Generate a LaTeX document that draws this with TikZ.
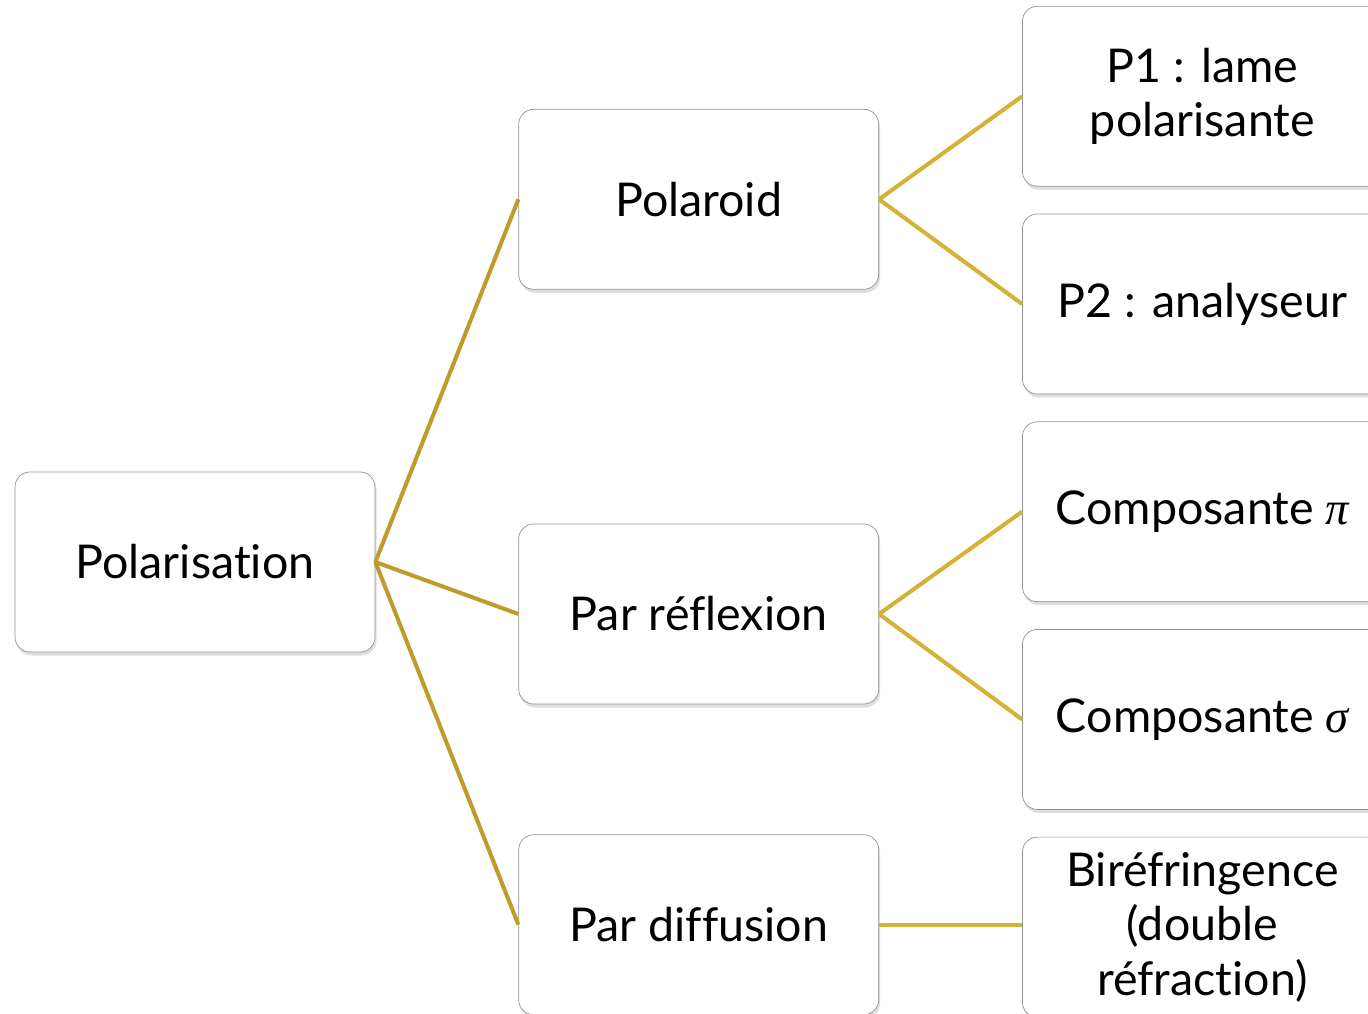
\documentclass[tikz,border=0pt]{standalone}
\usepackage{fontspec}
\setmainfont{Lato}[Ligatures=NoCommon]
\newfontfamily\grec{Liberation Serif}
\usepackage{tikz}
\usetikzlibrary{positioning, shadows}
\definecolor{orfonce}{HTML}{BF9B2C}
\definecolor{orclair}{HTML}{D5B236}
\newcommand{\taille}{\fontsize{26.5}{31}\selectfont}
\newcommand{\lettre}[1]{{\grec\itshape #1}}

\begin{document}
\begin{tikzpicture}[
  node distance=0.54cm and 2.86cm,
  box/.style={draw=gray!85, rounded corners=0.3cm, fill=white,
    minimum width=7.2cm, minimum height=3.6cm, align=center,
    inner sep=2pt, font=\taille,
    drop shadow={opacity=0.25, shadow xshift=0.03cm, shadow yshift=-0.07cm}},
  lienA/.style={line width=2.3pt, draw=orfonce},
  lienB/.style={line width=2.3pt, draw=orclair}
]
  \useasboundingbox (-3.9,11.24) rectangle (23.46,-9.02);
  \fill[white] (-3.9,11.24) rectangle (23.46,-9.02);
  \clip (-3.9,11.24) rectangle (23.46,-9.02);

  \node[box] (pol) {Polarisation};
  \node[box, above right=3.64cm and 2.86cm of pol] (polaroid) {Polaroid};
  \node[box, right=of pol, yshift=-1.04cm] (reflex) {Par réflexion};
  \node[box, below=2.6cm of reflex] (diffus) {Par diffusion};

  \node[box, right=of polaroid, yshift=2.06cm] (p1) {P1 : lame\\polarisante};
  \node[box, below=of p1] (p2) {P2 : analyseur};
  \node[box, below=of p2] (cpi) {Composante \lettre{π}};
  \node[box, below=of cpi] (csigma) {Composante \lettre{σ}};
  \node[box, below=of csigma] (biref) {Biréfringence\\(double\\réfraction)};

  \draw[lienA] (pol.east) -- (polaroid.west);
  \draw[lienA] (pol.east) -- (reflex.west);
  \draw[lienA] (pol.east) -- (diffus.west);
  \draw[lienB] (polaroid.east) -- (p1.west);
  \draw[lienB] (polaroid.east) -- (p2.west);
  \draw[lienB] (reflex.east) -- (cpi.west);
  \draw[lienB] (reflex.east) -- (csigma.west);
  \draw[lienB] (diffus.east) -- (diffus.east -| biref.west);
\end{tikzpicture}
\end{document}
